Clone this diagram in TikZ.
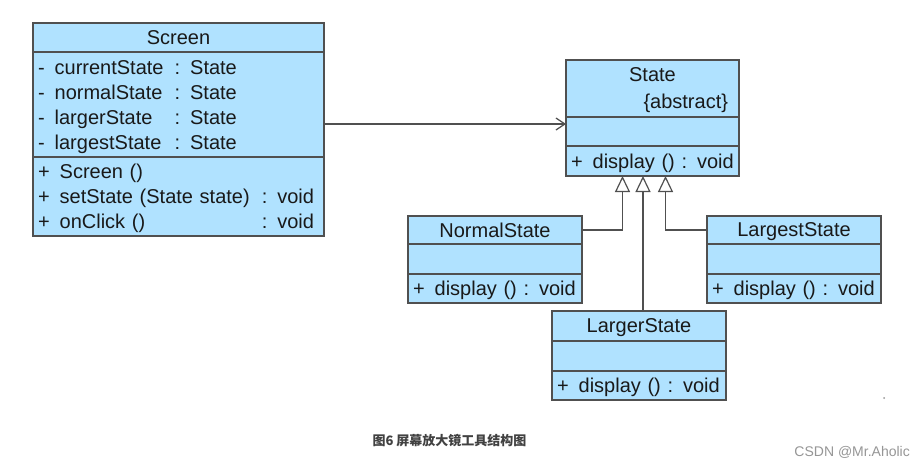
\documentclass[tikz,border=0pt]{standalone}
\usepackage{fontspec}
\setmainfont{Liberation Sans}
\newfontfamily\cjkfont{Noto Sans CJK SC}
\usetikzlibrary{arrows.meta,positioning}
\definecolor{sky}{RGB}{176,226,255}
\definecolor{slate}{RGB}{80,80,80}
\definecolor{ink}{RGB}{25,25,25}
\definecolor{capgray}{RGB}{65,65,65}
\definecolor{markgray}{RGB}{150,150,150}
\newcommand{\umlfont}{\fontsize{20}{25}\selectfont}
\newcommand{\vis}[1]{#1\hspace{10pt}}
\tikzset{
  cls/.style={draw=slate,fill=sky,line width=1.3pt,outer sep=0pt,inner xsep=5pt,inner ysep=0pt,
    text width=#1,text=ink,font=\umlfont,anchor=north},
  cls title/.style={cls=#1,align=center,execute at begin node={\vspace*{-4pt}\vphantom{g}}},
  cls blank/.style={cls=#1,align=left},
  cls body/.style={cls=#1,align=left,execute at begin node={\vspace*{-4pt}}},
  assoc/.style={draw=slate,line width=1.2pt,-{Straight Barb[length=9pt,width=12pt]}},
  gen/.style={draw=slate,line width=1.2pt,-{Triangle[open,length=16pt,width=15pt]}},
}

\begin{document}
\begin{tikzpicture}[x=1pt,y=-1pt]
  \fill[white] (0,0) rectangle (924,466);
  \useasboundingbox (0,0) rectangle (924,466);
  % Screen
  \node[cls title=281pt,minimum height=29pt] (scrT) at (178.5,23) {Screen};
  \node[cls body=281pt,minimum height=105pt,below=0pt of scrT] (scrA) {%
    \begin{tabular}{@{}l@{\hspace{11pt}}l@{}}
      \vis{-}currentState & : State\\
      \vis{-}normalState & : State\\
      \vis{-}largerState & : State\\
      \vis{-}largestState & : State
    \end{tabular}};
  \node[cls body=281pt,minimum height=79pt,below=0pt of scrA] (scrO) {%
    \begin{tabular}{@{}l@{\hspace{12pt}}l@{}}
      \vis{+}Screen () & \\
      \vis{+}setState (State state) & : void\\
      \vis{+}onClick () & : void
    \end{tabular}};
  % State
  \node[cls=163pt,align=center,minimum height=57pt] (stT) at (652.5,60) {State\\[2pt] \hfill\{abstract\}\hspace*{6pt}\vspace*{-4pt}};
  \node[cls blank=163pt,minimum height=29pt,below=0pt of stT] (stA) {};
  \node[cls body=163pt,minimum height=30pt,below=0pt of stA] (stO) {\vis{+}display () : void};
  % concrete states
  \node[cls title=164pt,minimum height=28pt] (nsT) at (495,216) {NormalState};
  \node[cls blank=164pt,minimum height=30pt,below=0pt of nsT] (nsA) {};
  \node[cls body=164pt,minimum height=29pt,below=0pt of nsA] (nsO) {\vis{+}display () : void};
  \node[cls title=164pt,minimum height=28pt] (lsT) at (794,216) {LargestState};
  \node[cls blank=164pt,minimum height=30pt,below=0pt of lsT] (lsA) {};
  \node[cls body=164pt,minimum height=29pt,below=0pt of lsA] (lsO) {\vis{+}display () : void};
  \node[cls title=164pt,minimum height=30pt] (lgT) at (639,311) {LargerState};
  \node[cls blank=164pt,minimum height=30pt,below=0pt of lgT] (lgA) {};
  \node[cls body=164pt,minimum height=29pt,below=0pt of lgA] (lgO) {\vis{+}display () : void};
  % connectors
  \coordinate (assocY) at (0,124);
  \coordinate (lgTop) at ([xshift=4pt]lgT.north);
  \draw[assoc] (scrA.east |- assocY) -- (stA.west |- assocY);
  \draw[gen] (nsT.east) -| ([xshift=-30pt]stO.south);
  \draw[gen] (lgTop) -- (lgTop |- stO.south);
  \draw[gen] (lsT.west) -| ([xshift=13pt]stO.south);
  % caption
  \node[font=\cjkfont\bfseries\fontsize{13}{15}\selectfont,text=capgray] (cap) at (449.5,441) {图6 屏幕放大镜工具结构图};
  \node[anchor=east,inner sep=0pt,font=\fontsize{14}{16}\selectfont,text=markgray] (wm) at (910,452) {CSDN @Mr.Aholic};
  \fill[markgray] (884,398) circle (1);
\end{tikzpicture}
\end{document}
